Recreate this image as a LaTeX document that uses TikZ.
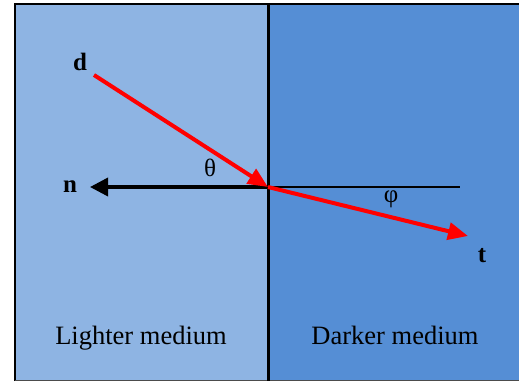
\documentclass[tikz,border=0pt]{standalone}
\usepackage{fontspec}
\setmainfont{Liberation Serif}
\usetikzlibrary{arrows.meta}
\definecolor{lightmed}{HTML}{8EB4E3}
\definecolor{darkmed}{HTML}{558ED5}

\begin{document}
\begin{tikzpicture}[x=1pt,y=-1pt]
\tikzstyle{every node}+=[inner sep=0pt]
\tikzstyle{ray}=[red,line width=4pt,-{Triangle[length=20pt,width=17pt]}]
\tikzstyle{lbl}=[font=\fontsize{25}{25}\selectfont]
\tikzstyle{medium}=[font=\fontsize{26.5}{26.5}\selectfont,anchor=base]
\useasboundingbox (0,0) rectangle (519,381);
\fill [lightmed] (15,4) rectangle (268,381);
\fill [darkmed] (268,4) rectangle (519,381);
\draw [black,line width=2.5pt] (15,381) -- (15,4) -- (519,4);
\draw [black!70,line width=1pt] (15,380.5) -- (519,380.5);
\draw [black,line width=3pt] (268,4) -- (268,381);
% points
\coordinate (o) at (268,187);
\coordinate (dstart) at (94,75);
\coordinate (ntip) at (90,187);
\coordinate (rend) at (460,187);
\coordinate (ttip) at (468,236);
% normal
\draw [black,line width=2pt] (o) -- (rend);
\draw [black,line width=3.5pt,-{Triangle[length=18pt,width=18pt]}] (o) -- (ntip);
% rays
\draw [ray] (dstart) -- (o);
\draw [ray] (o) -- (ttip);
% labels
\node [lbl] (d) at (80,62) {\textbf{d}};
\node [lbl] (n) at (70,187) {\textbf{n}};
\node [lbl] (t) at (482,256) {\textbf{t}};
\node [lbl] (theta) at (210,168) {θ};
\node [lbl] (phi) at (391,199) {φ};
\node [medium] (lighter) at (141,344) {Lighter medium};
\node [medium] (darker) at (395,344) {Darker medium};
\end{tikzpicture}
\end{document}
